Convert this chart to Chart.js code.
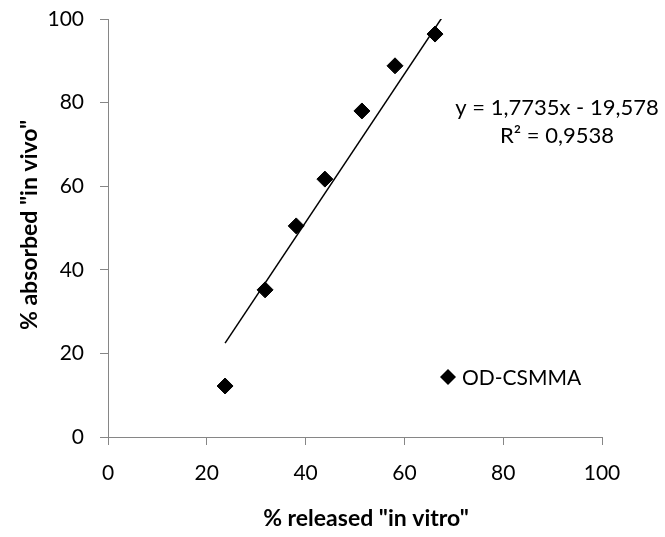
<!DOCTYPE html>
<html>
<head>
<meta charset="utf-8">
<script src="https://cdn.jsdelivr.net/npm/chart.js"></script>
<style>
  html, body { margin: 0; padding: 0; background: #fff; }
</style>
</head>
<body>
<canvas id="ivivcChart" width="665" height="537"></canvas>
<script>
const releasedInVitro = [23.7, 31.8, 38.1, 43.9, 51.4, 58.1, 66.2];
const absorbedInVivo = [12.2, 35.2, 50.5, 61.7, 78.0, 88.8, 96.4];
const trendSlope = 1.7735;
const trendIntercept = -19.578;
const trendRange = [23.7, 67.5];
const axisTicks = [0, 20, 40, 60, 80, 100];
const seriesName = 'OD-CSMMA';
const equationLines = ['y = 1,7735x - 19,578', 'R² = 0,9538'];
const xTitle = '% released "in vitro"';
const yTitle = '% absorbed "in vivo"';

const axisGray = '#868686';
const textFont = 'Lato, "Open Sans", sans-serif';

const points = releasedInVitro.map((v, i) => ({ x: v, y: absorbedInVivo[i] }));
const trend = trendRange.map(v => ({ x: v, y: trendSlope * v + trendIntercept }));

// equation, legend and axis titles drawn on top
const annotations = {
  id: 'annotations',
  afterDraw(chart) {
    const ctx = chart.ctx;
    ctx.save();
    ctx.fillStyle = '#000';
    ctx.textBaseline = 'middle';

    ctx.font = '22px ' + textFont;
    ctx.textAlign = 'center';
    ctx.fillText(equationLines[0], 557, 108);
    ctx.fillText(equationLines[1], 557, 136);

    // legend
    const lx = 448, ly = 377, r = 8;
    ctx.beginPath();
    ctx.moveTo(lx - r, ly);
    ctx.lineTo(lx, ly - r);
    ctx.lineTo(lx + r, ly);
    ctx.lineTo(lx, ly + r);
    ctx.closePath();
    ctx.fill();
    ctx.font = '21px ' + textFont;
    ctx.textAlign = 'left';
    ctx.fillText(seriesName, 462, 378);

    // axis titles
    ctx.font = 'bold 23px ' + textFont;
    ctx.textAlign = 'center';
    ctx.fillText(xTitle, 366, 519);
    ctx.translate(30, 225);
    ctx.rotate(-Math.PI / 2);
    ctx.fillText(yTitle, 0, 0);
    ctx.restore();
  }
};

const axis = (size) => ({
  type: 'linear',
  min: 0,
  max: 100,
  afterBuildTicks: scale => { scale.ticks = axisTicks.map(v => ({ value: v })); },
  afterFit: scale => {
    if (scale.isHorizontal()) scale.height = size;
    else scale.width = size;
    // keep label padding from shrinking the plot area
    scale.paddingTop = scale.paddingBottom = 0;
    scale.paddingLeft = scale.paddingRight = 0;
  },
  grid: {
    drawOnChartArea: false,
    drawTicks: true,
    tickLength: 8,
    tickColor: axisGray,
    tickWidth: 1
  },
  border: { display: true, color: axisGray, width: 1 },
  ticks: {
    color: '#000',
    padding: 16,
    font: { family: textFont, size: 21 }
  }
});

new Chart(document.getElementById('ivivcChart'), {
  type: 'scatter',
  data: {
    datasets: [{
      label: seriesName,
      data: points,
      pointStyle: 'rectRot',
      pointRadius: 8,
      pointHoverRadius: 8,
      backgroundColor: '#000',
      borderColor: '#000',
      borderWidth: 1
    }, {
      type: 'line',
      label: 'Linear trend',
      data: trend,
      borderColor: '#000',
      borderWidth: 1.5,
      pointRadius: 0,
      fill: false
    }]
  },
  options: {
    responsive: false,
    animation: false,
    devicePixelRatio: 1,
    layout: { padding: { left: 0, top: 19, right: 63, bottom: 0 } },
    plugins: {
      legend: { display: false },
      tooltip: { enabled: false }
    },
    scales: {
      x: axis(100),
      y: axis(108)
    }
  },
  plugins: [annotations]
});
</script>
</body>
</html>
